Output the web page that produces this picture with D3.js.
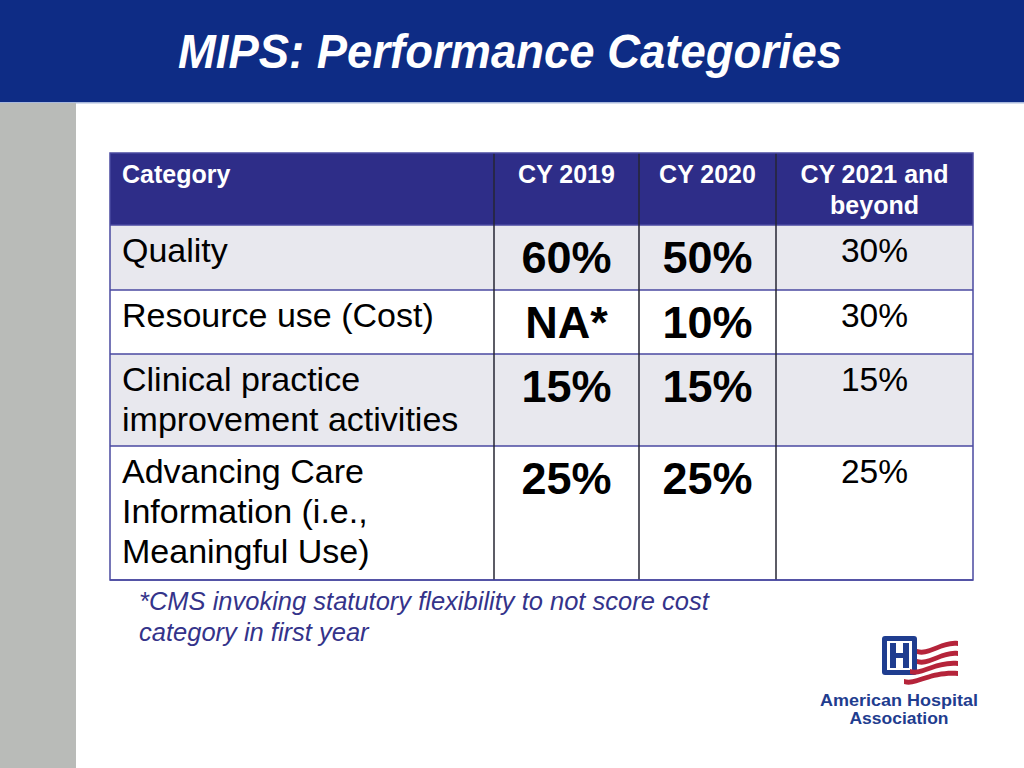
<!DOCTYPE html>
<html><head><meta charset="utf-8">
<script src="https://cdn.jsdelivr.net/npm/d3@7"></script>
<style>html,body{margin:0;padding:0;background:#fff;}svg{display:block;}</style>
</head><body>
<svg id="c" width="1024" height="768"></svg>
<script>
const title = "MIPS: Performance Categories";
const headers = [["Category"], ["CY 2019"], ["CY 2020"], ["CY 2021 and", "beyond"]];
const categories = [["Quality"], ["Resource use (Cost)"], ["Clinical practice", "improvement activities"], ["Advancing Care", "Information (i.e.,", "Meaningful Use)"]];
const cy2019 = ["60%", "NA*", "15%", "25%"];
const cy2020 = ["50%", "10%", "15%", "25%"];
const cy2021 = ["30%", "30%", "15%", "25%"];
const footnote = ["*CMS invoking statutory flexibility to not score cost", "category in first year"];
const logoText = ["American Hospital", "Association"];

const svg = d3.select("#c");
const F = "'Liberation Sans', Arial, Helvetica, sans-serif";

svg.append("rect").attr("x",0).attr("y",0).attr("width",1024).attr("height",102).attr("fill","#0e2c85");
svg.append("rect").attr("x",0).attr("y",102).attr("width",1024).attr("height",1.5).attr("fill","#a9b9dc");
svg.append("rect").attr("x",0).attr("y",103).attr("width",76).attr("height",665).attr("fill","#b9bbb8");

svg.append("text").attr("x",178).attr("y",68).attr("fill","#fff")
  .attr("font-family",F).attr("font-weight","bold").attr("font-style","italic")
  .attr("font-size",48).attr("textLength",664).attr("lengthAdjust","spacingAndGlyphs").text(title);

const colEdges = [110, 494, 639, 776, 973];
const rowHeights = [72, 65, 64, 92, 134];
const top0 = 153;
const rowEdges = [top0];
rowHeights.forEach(h => rowEdges.push(rowEdges[rowEdges.length-1]+h));
const x = i => colEdges[i];
const y = i => rowEdges[i];
const cx = i => (colEdges[i]+colEdges[i+1])/2;

const g = svg.append("g");
g.append("rect").attr("x",x(0)).attr("y",y(0)).attr("width",x(4)-x(0)).attr("height",rowHeights[0]).attr("fill","#2e2d88");
categories.forEach((c,r) => {
  g.append("rect").attr("x",x(0)).attr("y",y(r+1)).attr("width",x(4)-x(0)).attr("height",rowHeights[r+1])
    .attr("fill", r%2===0 ? "#e8e8ee" : "#ffffff");
});
for (let r=1;r<rowEdges.length;r++){
  g.append("line").attr("x1",x(0)).attr("x2",x(4)).attr("y1",y(r)).attr("y2",y(r)).attr("stroke","#4a49a0").attr("stroke-width",1.5);
}
for (let c=1;c<4;c++){
  g.append("line").attr("x1",x(c)).attr("x2",x(c)).attr("y1",y(0)).attr("y2",y(5)).attr("stroke","#262633").attr("stroke-width",1.5);
}
g.append("rect").attr("x",x(0)).attr("y",y(0)).attr("width",x(4)-x(0)).attr("height",y(5)-y(0))
  .attr("fill","none").attr("stroke","#4a49a0").attr("stroke-width",1.5);

headers.forEach((h,i) => {
  h.forEach((line,k) => {
    g.append("text").attr("x", i===0 ? x(0)+12 : cx(i)).attr("y", y(0)+30+k*31)
      .attr("text-anchor", i===0 ? "start" : "middle")
      .attr("fill","#fff").attr("font-family",F).attr("font-weight","bold").attr("font-size",25).text(line);
  });
});
categories.forEach((c,r) => {
  c.forEach((line,k) => {
    g.append("text").attr("x",x(0)+12).attr("y",y(r+1)+37+k*40)
      .attr("fill","#000").attr("font-family",F).attr("font-size",34).text(line);
  });
});
[cy2019, cy2020].forEach((arr,ci) => {
  arr.forEach((v,r) => {
    g.append("text").attr("x",cx(ci+1)).attr("y",y(r+1)+48).attr("text-anchor","middle")
      .attr("fill","#000").attr("font-family",F).attr("font-weight","bold").attr("font-size",45).text(v);
  });
});
cy2021.forEach((v,r) => {
  g.append("text").attr("x",cx(3)).attr("y",y(r+1)+37).attr("text-anchor","middle")
    .attr("fill","#000").attr("font-family",F).attr("font-size",33.5).text(v);
});

footnote.forEach((line,k) => {
  svg.append("text").attr("x",139).attr("y",610+k*31).attr("fill","#34338a")
    .attr("font-family",F).attr("font-style","italic").attr("font-size",25.5).text(line);
});

const lg = svg.append("g");
lg.append("rect").attr("x",882).attr("y",636).attr("width",35).attr("height",39).attr("rx",3).attr("fill","#1f3d8f");
lg.append("rect").attr("x",887).attr("y",641).attr("width",25).attr("height",29).attr("fill","#fff");
lg.append("rect").attr("x",890).attr("y",643).attr("width",6).attr("height",25).attr("fill","#1f3d8f");
lg.append("rect").attr("x",903).attr("y",643).attr("width",6).attr("height",25).attr("fill","#1f3d8f");
lg.append("rect").attr("x",890).attr("y",653).attr("width",19).attr("height",5).attr("fill","#1f3d8f");
[0,1,2,3].forEach(i => {
  const y0 = 645 + i*10;
  const x0 = i<2 ? 917 : 910 - (i-2)*6;
  lg.append("path").attr("d",`M${x0},${y0+4} C${x0+12},${y0+8} ${x0+25},${y0-6} 958,${y0-4} L958,${y0+1} C${x0+25},${y0-1} ${x0+12},${y0+13} ${x0},${y0+9} Z`)
    .attr("fill","#b5243a");
});
const logoW = [158, 99];
logoText.forEach((t,k) => {
  lg.append("text").attr("x",899).attr("y",706+k*18).attr("text-anchor","middle").attr("fill","#1f3d8f")
    .attr("font-family",F).attr("font-weight","bold").attr("font-size",16.5)
    .attr("textLength",logoW[k]).attr("lengthAdjust","spacingAndGlyphs").text(t);
});
</script>
</body></html>
